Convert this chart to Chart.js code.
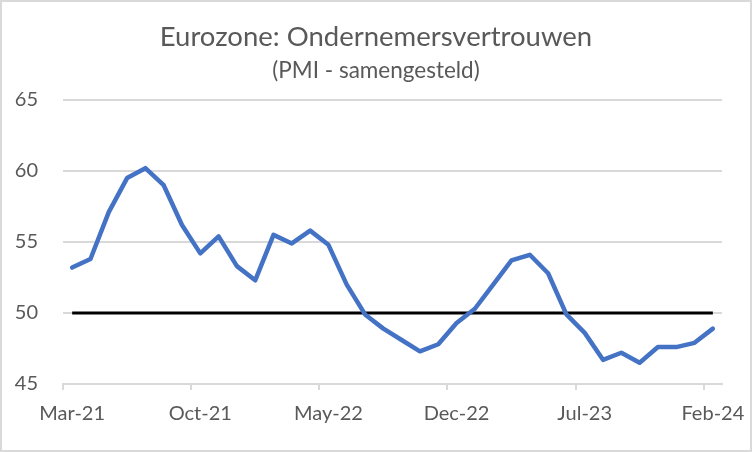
<!DOCTYPE html>
<html>
<head>
<meta charset="utf-8">
<script src="https://cdn.jsdelivr.net/npm/chart.js@4"></script>
<style>
  html, body { margin: 0; padding: 0; background: #fff; }
  #wrap { width: 752px; height: 452px; position: relative; }
</style>
</head>
<body>
<div id="wrap"><canvas id="c" width="752" height="452"></canvas></div>
<script>
const categories = [
  'Mar-21','Apr-21','May-21','Jun-21','Jul-21','Aug-21','Sep-21','Oct-21','Nov-21','Dec-21',
  'Jan-22','Feb-22','Mar-22','Apr-22','May-22','Jun-22','Jul-22','Aug-22','Sep-22','Oct-22',
  'Nov-22','Dec-22','Jan-23','Feb-23','Mar-23','Apr-23','May-23','Jun-23','Jul-23','Aug-23',
  'Sep-23','Oct-23','Nov-23','Dec-23','Jan-24','Feb-24'
];
const pmiValues = [
  53.2, 53.8, 57.1, 59.5, 60.2, 59.0, 56.2, 54.2, 55.4, 53.3,
  52.3, 55.5, 54.9, 55.8, 54.8, 52.0, 49.9, 48.9, 48.1, 47.3,
  47.8, 49.3, 50.3, 52.0, 53.7, 54.1, 52.8, 49.9, 48.6, 46.7,
  47.2, 46.5, 47.6, 47.6, 47.9, 48.9
];
const thresholdValues = categories.map(() => 50);
const yTicks = [45, 50, 55, 60, 65];
const titleText = 'Eurozone: Ondernemersvertrouwen';
const subtitleText = '(PMI - samengesteld)';

const FONT = 'Lato';
const TXT = '#595959';
const GRID = '#d9d9d9';

const borderPlugin = {
  id: 'outerBorder',
  afterDraw(chart) {
    const ctx = chart.ctx;
    ctx.save();
    ctx.strokeStyle = '#d9d9d9';
    ctx.lineWidth = 2;
    ctx.strokeRect(1, 1, chart.width - 2, chart.height - 2);
    ctx.restore();
  }
};

new Chart(document.getElementById('c'), {
  type: 'line',
  data: {
    labels: categories,
    datasets: [
      {
        label: 'PMI',
        data: pmiValues,
        borderColor: '#4472C4',
        borderWidth: 4.5,
        pointRadius: 0,
        tension: 0,
        borderJoinStyle: 'round',
        borderCapStyle: 'round',
        order: 1
      },
      {
        label: '50',
        data: thresholdValues,
        borderColor: '#000000',
        borderWidth: 3,
        pointRadius: 0,
        order: 2
      }
    ]
  },
  options: {
    responsive: false,
    animation: false,
    devicePixelRatio: 1,
    layout: { padding: { left: 0, right: 0, top: 0, bottom: 15 } },
    plugins: {
      legend: { display: false },
      tooltip: { enabled: false },
      title: {
        display: true,
        text: titleText,
        color: TXT,
        font: { family: FONT, size: 27.5, weight: 'normal', lineHeight: 1.2 },
        padding: { top: 21, bottom: 3.5 }
      },
      subtitle: {
        display: true,
        text: subtitleText,
        color: TXT,
        font: { family: FONT, size: 22.5, weight: 'normal', lineHeight: 1.2 },
        padding: { top: 0, bottom: 15.5 }
      }
    },
    scales: {
      x: {
        type: 'category',
        offset: true,
        afterFit: (scale) => { scale.paddingLeft = 0; scale.paddingRight = 30; },
        grid: {
          offset: true,
          drawOnChartArea: false,
          drawTicks: true,
          tickLength: 6,
          lineWidth: 2,
          color: (ctx) => (ctx.index % 7 === 0 && ctx.index < categories.length) ? GRID : 'rgba(0,0,0,0)'
        },
        border: { display: true, color: GRID, width: 2 },
        ticks: {
          autoSkip: false,
          maxRotation: 0,
          minRotation: 0,
          padding: 11.5,
          color: TXT,
          font: { family: FONT, size: 20 },
          callback: function (value, index) { return index % 7 === 0 ? categories[index] : ''; }
        }
      },
      y: {
        min: yTicks[0],
        max: yTicks[yTicks.length - 1],
        afterBuildTicks: (scale) => { scale.ticks = yTicks.map(v => ({ value: v })); },
        afterFit: (scale) => { scale.width = 63; },
        grid: { color: GRID, lineWidth: 2, drawTicks: false },
        border: { display: false },
        ticks: {
          padding: 25,
          color: TXT,
          font: { family: FONT, size: 20 }
        }
      }
    }
  },
  plugins: [borderPlugin]
});
</script>
</body>
</html>
